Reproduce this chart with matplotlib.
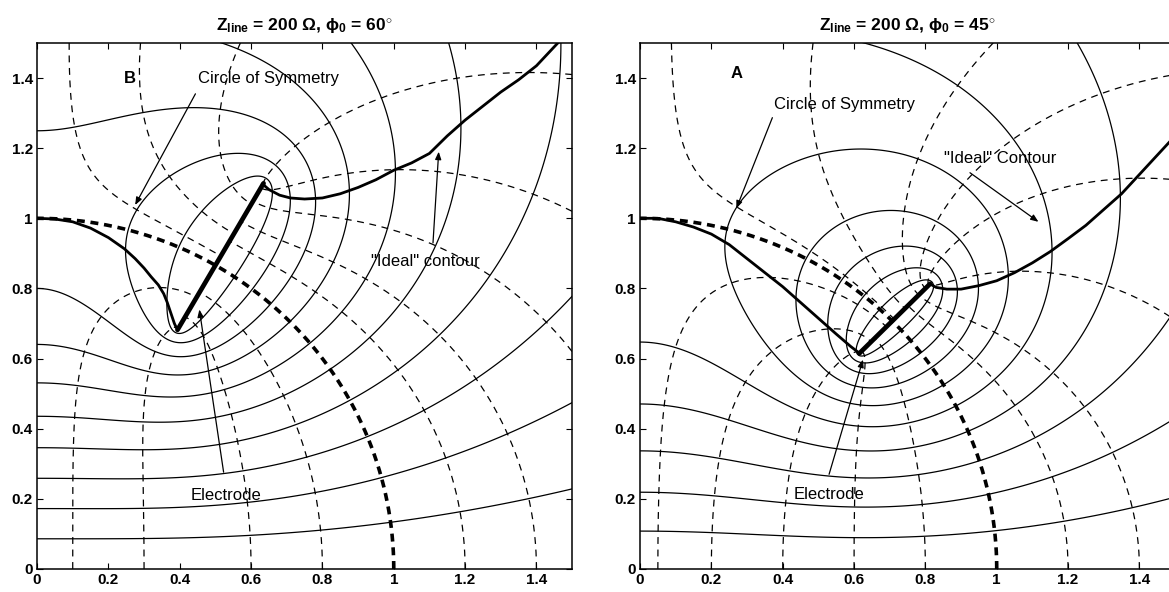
import numpy as np
import matplotlib
matplotlib.use("Agg")
import matplotlib.pyplot as plt
from matplotlib.ticker import FuncFormatter

plt.rcParams['font.family'] = ['Liberation Sans', 'DejaVu Sans']
plt.rcParams['mathtext.fontset'] = 'custom'
plt.rcParams['mathtext.rm'] = 'Liberation Sans:bold'
plt.rcParams['mathtext.it'] = 'Liberation Sans:bold'
plt.rcParams['mathtext.bf'] = 'Liberation Sans:bold'

# ---- left panel (B): electrode on the 60 degree ray ----
B_PHI0 = 60.0
B_R_OUT = 1.27              # outer end radius; inner end sits at 1 / B_R_OUT
B_N_LEVELS = 11             # evenly spaced equipotentials
B_CAL_Y = 0.80              # the 8th equipotential meets the y axis here
B_CAL_K = 8
B_SEEDS_BOTTOM = [0.1, 0.3, 0.6, 0.8, 1.2, 1.4]   # field lines leaving the ground plane
B_SEEDS_TOP = [0.09, 0.29, 0.57]                  # field lines entering through y = 1.5
B_SEEDS_RIGHT = [0.62, 1.02, 1.41]                # field lines entering through x = 1.5
B_IDEAL_LO_X = [0.0, 0.05, 0.1, 0.15, 0.2, 0.245, 0.275, 0.3, 0.32, 0.34,
                0.355, 0.365, 0.375, 0.385, 0.392]
B_IDEAL_LO_Y = [1.0, 0.998, 0.99, 0.972, 0.945, 0.913, 0.885, 0.858, 0.833,
                0.81, 0.785, 0.76, 0.73, 0.70, 0.685]
B_IDEAL_HI_X = [0.632, 0.65, 0.68, 0.71, 0.75, 0.8, 0.85, 0.9, 0.95, 1.0,
                1.05, 1.1, 1.15, 1.2, 1.25, 1.3, 1.35, 1.4, 1.46]
B_IDEAL_HI_Y = [1.098, 1.082, 1.066, 1.058, 1.055, 1.058, 1.07, 1.088, 1.11,
                1.137, 1.158, 1.185, 1.235, 1.28, 1.32, 1.36, 1.395, 1.435, 1.5]

# ---- right panel (A): electrode on the 45 degree ray ----
A_PHI0 = 45.0
A_R_OUT = 1.15
A_N_LEVELS = 10
A_CAL_Y = 0.108             # the lowest equipotential meets the y axis here
A_CAL_K = 1
A_SEEDS_BOTTOM = [0.05, 0.2, 0.4, 0.6, 0.8, 1.2, 1.4]
A_SEEDS_TOP = [0.088, 0.485, 0.99]
A_SEEDS_RIGHT = [0.71, 1.11, 1.41]
A_IDEAL_LO_X = [0.0, 0.05, 0.1, 0.15, 0.2, 0.25, 0.3, 0.35, 0.4, 0.45, 0.5,
                0.55, 0.59, 0.613]
A_IDEAL_LO_Y = [1.0, 1.0, 0.99, 0.975, 0.955, 0.925, 0.885, 0.845, 0.805,
                0.76, 0.715, 0.67, 0.635, 0.617]
A_IDEAL_HI_X = [0.813, 0.83, 0.86, 0.9, 0.95, 1.0, 1.05, 1.1, 1.15, 1.2, 1.25,
                1.3, 1.35, 1.4, 1.45, 1.5, 1.55]
A_IDEAL_HI_Y = [0.813, 0.803, 0.798, 0.798, 0.808, 0.822, 0.845, 0.873, 0.905,
                0.942, 0.98, 1.025, 1.07, 1.125, 1.18, 1.235, 1.29]

TICKS = [0, 0.2, 0.4, 0.6, 0.8, 1.0, 1.2, 1.4]
TITLE = r'Z$_{\rm line}$ = 200 Ω, ϕ$_{\rm 0}$ = {}$^{\circ}$'
RHO = 0.002                 # electrode half thickness
DASH = (0, (5.5, 4.5))


def seg_phi(z, a, b):
    # potential of a unit charge spread evenly over the segment a-b
    d = b - a
    L = np.abs(d)
    w = (z - a) * np.conj(d) / L
    wl = w - L
    f = w * np.log(w) - wl * np.log(wl) - L
    return -f.real / L


def seg_dphi(z, a, b):
    # derivative of the complex potential of the same segment
    d = b - a
    L = np.abs(d)
    w = (z - a) * np.conj(d) / L
    return -(np.conj(d) / L) * (np.log(w) - np.log(w - L)) / L


class Electrode:
    """Thin electrode on a ray at potential 1, grounded x axis,
    mirror plane on the y axis."""

    def __init__(self, phi0, r_out, rho, n=40):
        t = np.deg2rad(phi0)
        r = np.linspace(1.0 / r_out, r_out, n + 1)
        ends = r * np.exp(1j * t)
        self.e0, self.e1 = ends[0], ends[-1]
        a, b = ends[:-1], ends[1:]
        self.A = np.concatenate([a, -np.conj(a), np.conj(a), -a])
        self.B = np.concatenate([b, -np.conj(b), np.conj(b), -b])
        s = np.repeat([1.0, 1.0, -1.0, -1.0], n)
        col = 0.5 * (a + b) + rho * np.exp(1j * (t + np.pi / 2))
        G = seg_phi(col[:, None], self.A[None, :], self.B[None, :]) * s
        M = G.reshape(n, 4, n).sum(axis=1)
        q = np.linalg.solve(M, np.ones(n))
        self.Q = np.tile(q, 4) * s

    def phi(self, z):
        z = np.asarray(z, dtype=complex)
        out = np.zeros(z.shape)
        for qk, ak, bk in zip(self.Q, self.A, self.B):
            out += qk * seg_phi(z, ak, bk)
        return out

    def grad(self, z):
        return np.conj(np.sum(self.Q * seg_dphi(z, self.A, self.B)))

    def dist(self, z):
        d = self.e1 - self.e0
        u = np.clip(((z - self.e0) * np.conj(d)).real / abs(d) ** 2, 0, 1)
        return abs(z - (self.e0 + u * d))


def trace(el, z, h=0.004, nmax=2500):
    def step_dir(p):
        g = el.grad(p)
        return g / abs(g)

    pts = [z]
    for _ in range(nmax):
        k1 = step_dir(z)
        k2 = step_dir(z + 0.5 * h * k1)
        k3 = step_dir(z + 0.5 * h * k2)
        k4 = step_dir(z + h * k3)
        z = z + h * (k1 + 2 * k2 + 2 * k3 + k4) / 6
        pts.append(z)
        if el.dist(z) < 0.004:
            break
        if not (-0.02 < z.real < 1.6 and -0.02 < z.imag < 1.6):
            break
    return np.array(pts)


def draw_panel(ax, phi0, r_out, n_levels, cal_y, cal_k, seeds_bottom,
               seeds_top, seeds_right, lo_x, lo_y, hi_x, hi_y):
    el = Electrode(phi0, r_out, RHO)

    g = np.linspace(0.0, 1.52, 460)
    X, Y = np.meshgrid(g, g)
    P = np.minimum(el.phi(X + 1j * Y), 1.2)
    step = el.phi(np.array([cal_y * 1j]))[0] / cal_k
    levels = step * np.arange(1, n_levels + 1)
    levels = levels[levels < 0.99]
    ax.contour(X, Y, P, levels=levels, colors='k', linewidths=0.9,
               linestyles='solid')

    starts = ([complex(x, 1e-4) for x in seeds_bottom]
              + [complex(x, 1.5) for x in seeds_top]
              + [complex(1.5, y) for y in seeds_right])
    for z0 in starts:
        line = trace(el, z0)
        ax.plot(line.real, line.imag, color='k', lw=0.9, ls=DASH)

    # circle of symmetry
    th = np.linspace(0, np.pi / 2, 200)
    ax.plot(np.cos(th), np.sin(th), color='k', lw=2.6, ls=(0, (2.2, 1.6)))

    # "ideal" contour and the electrode
    ax.plot(lo_x, lo_y, color='k', lw=2.0, solid_joinstyle='round')
    ax.plot(hi_x, hi_y, color='k', lw=2.0, solid_joinstyle='round')
    ax.plot([el.e0.real, el.e1.real], [el.e0.imag, el.e1.imag],
            color='k', lw=3.4, solid_capstyle='round')

    ax.set_xlim(0, 1.5)
    ax.set_ylim(0, 1.5)
    ax.set_xticks(TICKS)
    ax.set_yticks(TICKS)
    fmt = FuncFormatter(lambda v, p: f'{v:g}')
    ax.xaxis.set_major_formatter(fmt)
    ax.yaxis.set_major_formatter(fmt)
    ax.tick_params(direction='in', top=True, right=True, length=4,
                   width=0.8, labelsize=11, pad=3)
    for lab in ax.get_xticklabels() + ax.get_yticklabels():
        lab.set_fontweight('bold')
    for sp in ax.spines.values():
        sp.set_linewidth(1.1)
    ax.set_title(TITLE.replace('{}', f'{phi0:g}'), fontsize=12.5,
                 fontweight='bold', pad=9)


fig = plt.figure(figsize=(11.69, 5.92), dpi=100)
axB = fig.add_axes([0.0317, 0.0389, 0.4577, 0.8885])
axA = fig.add_axes([0.5475, 0.0389, 0.4577, 0.8885])

draw_panel(axB, B_PHI0, B_R_OUT, B_N_LEVELS, B_CAL_Y, B_CAL_K, B_SEEDS_BOTTOM,
           B_SEEDS_TOP, B_SEEDS_RIGHT, B_IDEAL_LO_X, B_IDEAL_LO_Y,
           B_IDEAL_HI_X, B_IDEAL_HI_Y)
draw_panel(axA, A_PHI0, A_R_OUT, A_N_LEVELS, A_CAL_Y, A_CAL_K, A_SEEDS_BOTTOM,
           A_SEEDS_TOP, A_SEEDS_RIGHT, A_IDEAL_LO_X, A_IDEAL_LO_Y,
           A_IDEAL_HI_X, A_IDEAL_HI_Y)

arrow = dict(arrowstyle='-|>,head_length=0.45,head_width=0.18', color='k',
             lw=0.9, shrinkA=0, shrinkB=0)
txt = dict(fontsize=12, ha='center', va='center')

# left panel labels
axB.text(0.26, 1.40, 'B', fontsize=12, fontweight='bold', ha='center', va='center')
axB.text(0.65, 1.40, 'Circle of Symmetry', **txt)
axB.annotate('', xy=(0.275, 1.038), xytext=(0.444, 1.355), arrowprops=arrow)
axB.text(0.935, 0.877, '"Ideal" contour', fontsize=12, ha='left', va='center')
axB.annotate('', xy=(1.126, 1.19), xytext=(1.11, 0.93), arrowprops=arrow)
axB.text(0.53, 0.21, 'Electrode', **txt)
axB.annotate('', xy=(0.455, 0.74), xytext=(0.523, 0.276), arrowprops=arrow)

# right panel labels
axA.text(0.27, 1.414, 'A', fontsize=12, fontweight='bold', ha='center', va='center')
axA.text(0.573, 1.325, 'Circle of Symmetry', **txt)
axA.annotate('', xy=(0.27, 1.028), xytext=(0.371, 1.287), arrowprops=arrow)
axA.text(0.853, 1.17, '"Ideal" Contour', fontsize=12, ha='left', va='center')
axA.annotate('', xy=(1.117, 0.99), xytext=(0.925, 1.13), arrowprops=arrow)
axA.text(0.53, 0.212, 'Electrode', **txt)
axA.annotate('', xy=(0.625, 0.597), xytext=(0.53, 0.27), arrowprops=arrow)

fig.savefig('out.png', dpi=100)
